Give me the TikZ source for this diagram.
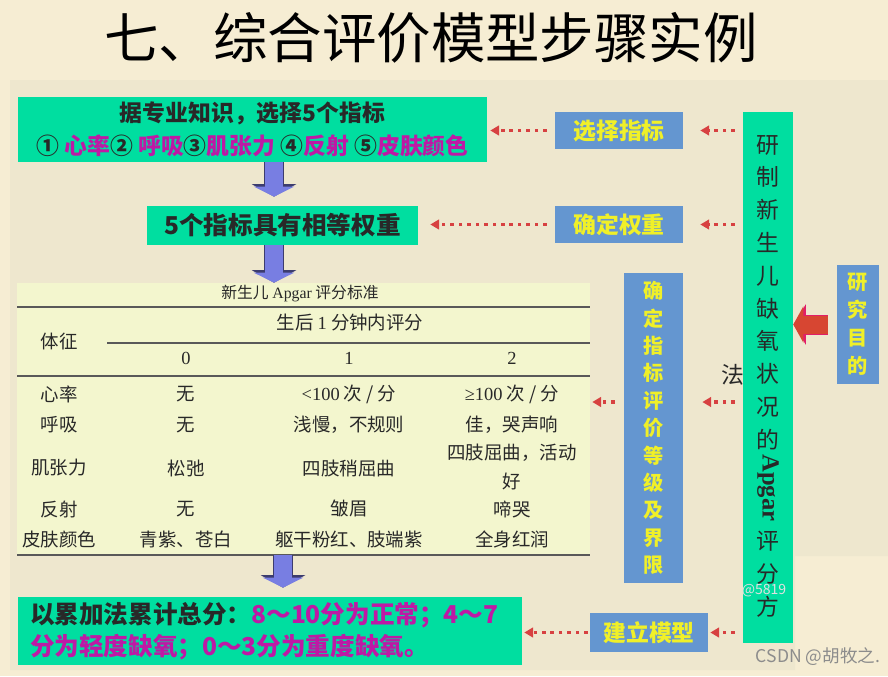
\documentclass[tikz,border=0pt]{standalone}
\usepackage{fontspec}
\setmainfont{Noto Sans CJK SC}
\newfontfamily\serifnum{Liberation Serif}
\usetikzlibrary{arrows.meta, positioning}
\definecolor{pagebg}{RGB}{246,237,211}
\definecolor{panelbg}{RGB}{238,231,206}
\definecolor{tablebg}{RGB}{243,246,206}
\definecolor{mint}{RGB}{0,222,160}
\definecolor{skyblue}{RGB}{100,150,208}
\definecolor{textyellow}{RGB}{240,240,40}
\definecolor{magentatext}{RGB}{190,25,165}
\definecolor{darktext}{RGB}{40,40,40}
\definecolor{arrowblue}{RGB}{120,126,226}
\definecolor{arrowedge}{RGB}{60,60,110}
\definecolor{dotred}{RGB}{215,65,65}
\definecolor{fatred}{RGB}{215,70,50}
\definecolor{rededge}{RGB}{225,30,105}

\begin{document}
\begin{tikzpicture}[x=0.02cm, y=-0.02cm,
    greenbox/.style={rectangle, fill=mint, inner sep=0pt, align=center, text=darktext, font=\bfseries},
    bluebox/.style={rectangle, fill=skyblue, inner sep=0pt, align=center, text=textyellow,
                    font=\fontsize{13}{16}\selectfont\bfseries},
    cell/.style={inner sep=0pt, align=center, text=darktext, font=\fontsize{10.5}{16}\selectfont},
    rule/.style={draw=black!65, line width=0.7pt},
    fatarr/.style={line width=0.36cm, arrowblue, -{Triangle[length=0.2cm, width=0.8cm]},
                   preaction={draw=arrowedge, line width=0.4cm, -{Triangle[length=0.25cm, width=0.88cm]}}},
    redfat/.style={line width=0.36cm, fatred, -{Triangle[length=0.2cm, width=0.72cm]},
                   preaction={draw=rededge, line width=0.4cm, -{Triangle[length=0.25cm, width=0.8cm]}}},
    dotarr/.style={dotred, line width=2pt, dash pattern=on 2pt off 2.8pt,
                   -{Triangle[length=5pt, width=5.5pt]}}
  ]
  \useasboundingbox (0,0) rectangle (888,676);
  \fill[pagebg] (0,0) rectangle (888,676);
  \fill[panelbg] (10,80) -- (888,80) -- (888,556) -- (795,556) -- (795,670) -- (10,670) -- cycle;

  \node[font=\fontsize{31}{36}\selectfont, text=black] (title) at (431,38)
    {七、综合评价模型步骤实例};

  % left column
  \node[greenbox, minimum width=9.38cm, minimum height=1.3cm,
        font=\fontsize{13}{18.8}\selectfont\bfseries] (sel) at (252.5,129.5)
    {据专业知识，选择5个指标\\
     ① \textcolor{magentatext}{心率}② \textcolor{magentatext}{呼吸}③\textcolor{magentatext}{肌张力} ④\textcolor{magentatext}{反射} ⑤\textcolor{magentatext}{皮肤颜色}};
  \node[greenbox, minimum width=5.42cm, minimum height=0.78cm,
        font=\fontsize{14}{17}\selectfont\bfseries] (eqw) at (282.5,225.5) {5个指标具有相等权重};

  % table
  \node[fill=tablebg, minimum width=11.46cm, minimum height=5.44cm, inner sep=0pt] (tbl) at (303.5,419) {};
  \node[cell, font=\fontsize{9}{11}\selectfont] (tcap) at (300,294) {新生儿 {\serifnum Apgar} 评分标准};
  \node[cell] (sign) at (59,342) {体征};
  \node[cell] (within) at (350,323) {生后 {\serifnum 1} 分钟内评分};
  \node[cell] (s0) at (186,358) {\serifnum 0};
  \node[cell] (s1) at (349,358) {\serifnum 1};
  \node[cell] (s2) at (512,358) {\serifnum 2};
  \draw[rule] (17,307) -- (590,307);
  \draw[rule] (107,343) -- (590,343);
  \draw[rule] (17,376) -- (590,376);
  \draw[rule] (17,555) -- (590,555);

  \node[cell] (hr0) at (59,394) {心率};
  \node[cell] (hr1) at (186,394) {无};
  \node[cell] (hr2) at (349,394) {{\serifnum <100} 次 / 分};
  \node[cell] (hr3) at (512,394) {{\serifnum ≥100} 次 / 分};
  \node[cell] (br0) at (59,425) {呼吸};
  \node[cell] (br1) at (186,425) {无};
  \node[cell] (br2) at (349,425) {浅慢，不规则};
  \node[cell] (br3) at (512,425) {佳，哭声响};
  \node[cell] (mt0) at (59,468) {肌张力};
  \node[cell] (mt1) at (186,468) {松弛};
  \node[cell] (mt2) at (349,468) {四肢稍屈曲};
  \node[cell] (mt3) at (512,467) {四肢屈曲，活动\\好};
  \node[cell] (rf0) at (59,509) {反射};
  \node[cell] (rf1) at (186,509) {无};
  \node[cell] (rf2) at (349,509) {皱眉};
  \node[cell] (rf3) at (512,509) {啼哭};
  \node[cell] (sk0) at (59,539) {皮肤颜色};
  \node[cell] (sk1) at (186,539) {青紫、苍白};
  \node[cell] (sk2) at (349,539) {躯干粉红、肢端紫};
  \node[cell] (sk3) at (512,539) {全身红润};

  \node[greenbox, minimum width=10.08cm, minimum height=1.36cm, text width=9.6cm, align=left,
        font=\fontsize{14}{18.2}\selectfont\bfseries] (total) at (270,631)
    {以累加法累计总分：\textcolor{magentatext}{8～10分为正常；4～7}\\
     \textcolor{magentatext}{分为轻度缺氧；0～3分为重度缺氧。}};

  % step boxes
  \node[bluebox, minimum width=2.56cm, minimum height=0.74cm] (bSel) at (619,130.5) {选择指标};
  \node[bluebox, minimum width=2.56cm, minimum height=0.74cm] (bWgt) at (619,224.5) {确定权重};
  \node[bluebox, minimum width=1.18cm, minimum height=6.2cm,
        font=\fontsize{11.5}{15.6}\selectfont\bfseries] (bGrd) at (653.5,428)
    {确\\定\\指\\标\\评\\价\\等\\级\\及\\界\\限};
  \node[bluebox, minimum width=2.36cm, minimum height=0.78cm] (bMod) at (649,632.5) {建立模型};

  % method column
  \node[greenbox, minimum width=1.0cm, minimum height=10.62cm] (method) at (768,377.5) {};
  \node[align=center, text=darktext, inner sep=0pt, font=\fontsize{13}{18.66}\selectfont] (mtop) at (768,292.5)
    {研\\制\\新\\生\\儿\\缺\\氧\\状\\况\\的};
  \node[rotate=-90, text=darktext, inner sep=0pt, font=\fontsize{14}{16}\selectfont\serifnum\bfseries] (mapg) at (768,488) {Apgar};
  \node[align=center, text=darktext, inner sep=0pt, font=\fontsize{13}{18.66}\selectfont] (mbot) at (768,574)
    {评\\分\\方};
  \node[text=darktext, inner sep=0pt, font=\fontsize{13}{16}\selectfont] (mfa) at (733,375) {法};

  \node[bluebox, minimum width=0.84cm, minimum height=2.38cm,
        font=\fontsize{11.5}{16}\selectfont\bfseries] (aim) at (858,324.5) {研\\究\\目\\的};

  % arrows
  \coordinate (ax) at (274,0);
  \coordinate (bx) at (283,0);
  \coordinate (lvl) at (650,402);
  \draw[fatarr, shorten >=0.18cm] (sel.south -| ax) -- (eqw.north -| ax);
  \draw[fatarr] (eqw.south -| ax) -- (tbl.north -| ax);
  \draw[fatarr, shorten >=0.18cm] (tbl.south -| bx) -- (total.north -| bx);
  \draw[redfat, shorten <=0.18cm] (aim.west) -- (method.east |- aim.west);

  \draw[dotarr, shorten <=0.16cm, shorten >=0.34cm] (method.west |- bSel.east) -- (bSel.east);
  \draw[dotarr, shorten <=0.16cm, shorten >=0.06cm] (bSel.west) -- (sel.east |- bSel.west);
  \draw[dotarr, shorten <=0.16cm, shorten >=0.34cm] (method.west |- bWgt.east) -- (bWgt.east);
  \draw[dotarr, shorten <=0.16cm, shorten >=0.24cm] (bWgt.west) -- (eqw.east |- bWgt.west);
  \draw[dotarr, shorten <=0.16cm, shorten >=0.38cm] (method.west |- lvl) -- (bGrd.east |- lvl);
  \draw[dotarr, shorten <=0.18cm, shorten >=0.04cm] (bGrd.west |- lvl) -- (tbl.east |- lvl);
  \draw[dotarr, shorten <=0.16cm, shorten >=0.04cm] (method.west |- bMod.east) -- (bMod.east);
  \draw[dotarr, shorten <=0.04cm, shorten >=0.04cm] (bMod.west) -- (total.east |- bMod.west);

  % watermarks
  \node[text=black!12, inner sep=0pt, font=\fontsize{8}{9}\selectfont] (wm) at (764,591) {@5819};
  \node[text=black!45, font=\fontsize{10}{12}\selectfont] (csdn) at (818,657) {CSDN @胡牧之.};
\end{tikzpicture}
\end{document}
